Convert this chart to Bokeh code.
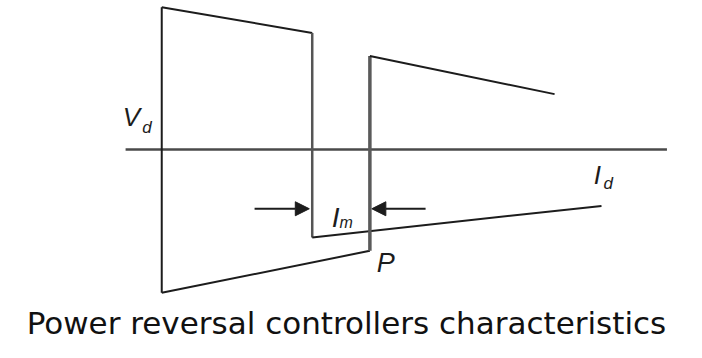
from bokeh.plotting import figure
from bokeh.models import Range1d, Label, Arrow, NormalHead
from bokeh.embed import file_html
from bokeh.resources import INLINE

# Schematic characteristic data (Id, Vd) in arbitrary units
rect_id = [0.0, 15.4, 15.4, 45.0]
rect_vd = [14.9, 12.2, -9.2, -5.9]
inv_id = [0.0, 21.3, 21.3, 40.2]
inv_vd = [-15.0, -10.6, 9.8, 5.8]
vaxis_id = [0.0, 0.0]
vaxis_vd = [14.9, -15.0]
haxis_id = [-3.7, 51.7]
haxis_vd = [0.0, 0.0]
margin_vd = -6.2
title_text = "Power reversal controllers characteristics"

p = figure(width=686, height=342, output_backend="svg", toolbar_location=None,
           x_range=Range1d(-16.5, 53.7), y_range=Range1d(-20.2, 15.6),
           min_border=0)
p.axis.visible = False
p.grid.visible = False
p.outline_line_color = None
p.background_fill_color = "white"
p.border_fill_color = "white"

ink = "#1c1c1c"
# axes
p.line(haxis_id, haxis_vd, line_color="#4a4a4a", line_width=2.5)
p.line(vaxis_id, vaxis_vd, line_color=ink, line_width=2)
# rectifier characteristic
p.line(rect_id[:2], rect_vd[:2], line_color=ink, line_width=2)
p.line(rect_id[1:3], rect_vd[1:3], line_color="#555555", line_width=2.5)
p.line(rect_id[2:], rect_vd[2:], line_color=ink, line_width=2)
# inverter characteristic
p.line(inv_id[:2], inv_vd[:2], line_color=ink, line_width=2)
p.line(inv_id[1:3], inv_vd[1:3], line_color="#5a5a5a", line_width=3.5)
p.line(inv_id[2:], inv_vd[2:], line_color=ink, line_width=2)

# margin arrows
head = dict(size=14, fill_color=ink, line_color=ink)
p.add_layout(Arrow(end=NormalHead(**head), x_start=rect_id[1] - 5.9, y_start=margin_vd,
                   x_end=rect_id[1] - 0.3, y_end=margin_vd, line_color=ink, line_width=2))
p.add_layout(Arrow(end=NormalHead(**head), x_start=inv_id[1] + 5.7, y_start=margin_vd,
                   x_end=inv_id[1] + 0.2, y_end=margin_vd, line_color=ink, line_width=2))

font = "Liberation Sans"
def lab(x, y, t, size):
    p.add_layout(Label(x=x, y=y, text=t, text_font=font, text_font_style="italic",
                       text_font_size=size, text_color=ink, text_align="left",
                       text_baseline="alphabetic"))

lab(-4.0, 3.4, "V", "26px")
lab(-2.0, 2.3, "d", "17px")
lab(17.4, -7.1, "I", "28px")
lab(18.2, -7.6, "m", "16px")
lab(inv_id[1] + 0.7, -11.9, "P", "27px")
lab(44.2, -2.7, "I", "26px")
lab(45.2, -3.6, "d", "17px")

p.add_layout(Label(x=18.9, y=-18.2, text=title_text, text_font="DejaVu Sans",
                   text_font_size="31px", text_color="#111111", text_align="center",
                   text_baseline="alphabetic"))

open("out.html", "w").write(file_html(p, INLINE))
